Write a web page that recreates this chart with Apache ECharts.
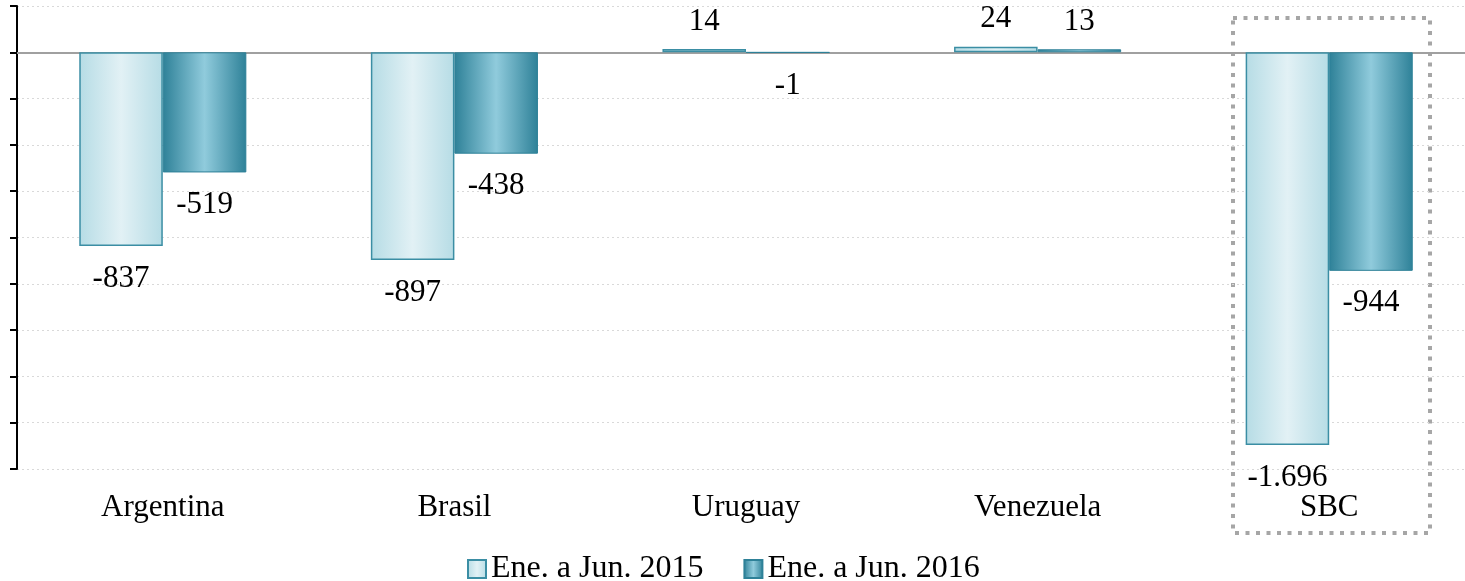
<!DOCTYPE html>
<html>
<head>
<meta charset="utf-8">
<script src="https://cdn.jsdelivr.net/npm/echarts@6/dist/echarts.min.js"></script>
<style>
  html, body { margin: 0; padding: 0; background: #fff; }
  #chart { width: 1465px; height: 581px; }
</style>
</head>
<body>
<div id="chart"></div>
<script>
// datos
const categorias = ['Argentina', 'Brasil', 'Uruguay', 'Venezuela', 'SBC'];
const serie2015 = [-837, -897, 14, 24, -1696];
const serie2016 = [-519, -438, -1, 13, -944];
const nombres = ['Ene. a Jun. 2015', 'Ene. a Jun. 2016'];

const fuente = '"Liberation Serif", "DejaVu Serif", serif';
const tam = 31;

// separador de miles con punto
function fmt(v) {
    const s = Math.abs(v).toString().replace(/\B(?=(\d{3})+(?!\d))/g, '.');
    return (v < 0 ? '-' : '') + s;
}

function grad(borde, centro) {
    return new echarts.graphic.LinearGradient(0, 0, 1, 0, [
        {offset: 0, color: borde},
        {offset: 0.5, color: centro},
        {offset: 1, color: borde}
    ]);
}

const etiqueta = {
    show: true,
    position: 'bottom',
    distance: 17,
    color: '#000',
    fontFamily: fuente,
    fontSize: tam,
    formatter: p => fmt(p.value)
};

// valores positivos: etiqueta arriba
function datos(serie) {
    return serie.map(v => v >= 0 ? {value: v, label: {position: 'top', distance: 12}} : v);
}

const chart = echarts.init(document.getElementById('chart'));
chart.setOption({
    animation: false,
    grid: {left: 17, top: 6, width: 1458, height: 463, outerBoundsMode: 'none'},
    legend: {
        top: 548,
        left: 462,
        icon: 'rect',
        itemWidth: 18,
        itemHeight: 18,
        itemGap: 40,
        textStyle: {fontFamily: fuente, fontSize: 32, color: '#000'},
        data: nombres
    },
    xAxis: [{
        type: 'category',
        data: categorias,
        position: 'bottom',
        axisLine: {show: false, onZero: false},
        axisTick: {show: false},
        axisLabel: {fontFamily: fuente, fontSize: tam, color: '#000', margin: 23}
    }, {
        type: 'category',
        data: categorias,
        position: 'top',
        axisLine: {onZero: true, lineStyle: {color: '#a0a0a0', width: 2}},
        axisTick: {inside: true, length: 10, lineStyle: {color: '#a0a0a0', width: 2}},
        axisLabel: {show: false}
    }],
    yAxis: {
        type: 'value',
        min: -1800,
        max: 200,
        interval: 200,
        axisLine: {show: true, onZero: false, lineStyle: {color: '#000', width: 2}},
        axisTick: {show: true, length: 7, lineStyle: {color: '#000', width: 2}},
        axisLabel: {show: false},
        splitLine: {lineStyle: {color: '#d9d9d9', type: [2, 3], width: 1}}
    },
    series: [{
        name: nombres[0],
        type: 'bar',
        data: datos(serie2015),
        barGap: 0,
        barCategoryGap: '42.7%',
        itemStyle: {color: grad('#b6dce5', '#e2f1f5'), borderColor: '#3b8ea4', borderWidth: 1.5},
        label: etiqueta
    }, {
        name: nombres[1],
        type: 'bar',
        data: datos(serie2016),
        itemStyle: {color: grad('#2e8198', '#90cbdc'), borderColor: '#2e8198', borderWidth: 1},
        label: etiqueta
    }],
    graphic: [{
        type: 'rect',
        shape: {x: 1233, y: 18, width: 197, height: 515},
        style: {fill: 'none', stroke: '#a6a6a6', lineWidth: 4, lineDash: [4, 6.5]}
    }]
});
</script>
</body>
</html>
